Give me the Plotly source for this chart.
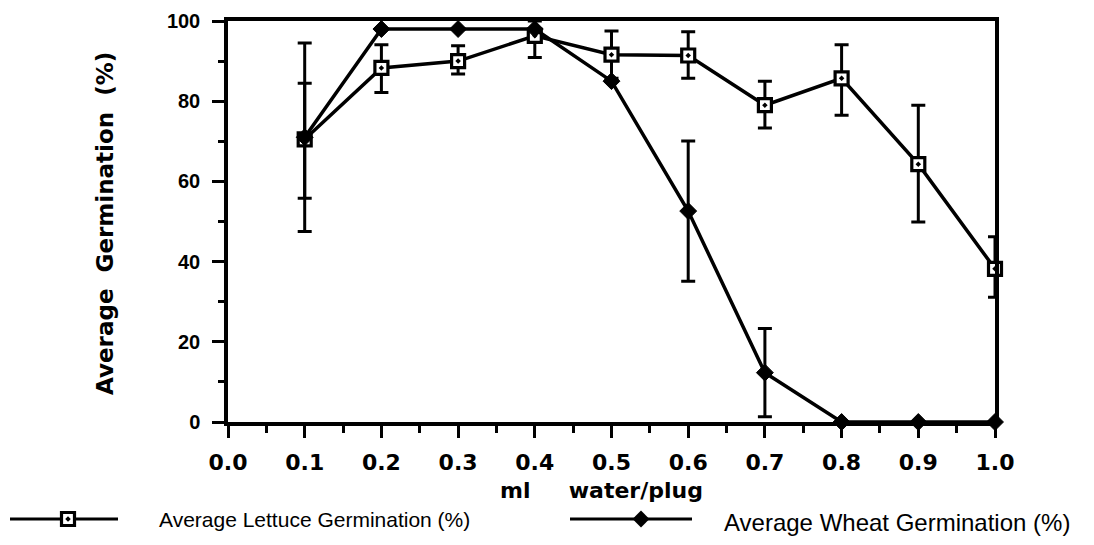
import plotly.graph_objects as go

# ---------------- data ----------------
water_ml = [0.1, 0.2, 0.3, 0.4, 0.5, 0.6, 0.7, 0.8, 0.9, 1.0]

lettuce_pct = [70.5, 88.3, 90.0, 96.3, 91.6, 91.4, 79.0, 85.7, 64.3, 38.2]
lettuce_err_plus = [14.0, 5.8, 3.8, 3.7, 5.9, 5.9, 6.0, 8.4, 14.7, 8.0]
lettuce_err_minus = [14.7, 6.1, 3.2, 5.4, 5.9, 5.7, 5.7, 9.2, 14.4, 7.1]

wheat_pct = [71.0, 98.0, 98.0, 98.0, 85.0, 52.6, 12.3, 0.0, 0.0, 0.0]
wheat_err = [23.5, 0.0, 0.0, 0.0, 0.0, 17.5, 11.0, 0.0, 0.0, 0.0]

x_ticks = [0.0, 0.1, 0.2, 0.3, 0.4, 0.5, 0.6, 0.7, 0.8, 0.9, 1.0]
x_ticktext = ["0.0", "0.1", "0.2", "0.3", "0.4", "0.5", "0.6", "0.7", "0.8", "0.9", "1.0"]
y_ticks = [0, 20, 40, 60, 80, 100]

lettuce_name = "Average Lettuce Germination (%)"
wheat_name = "Average Wheat Germination (%)"
x_title = "ml\u00a0\u00a0\u00a0\u00a0\u00a0water/plug"
y_title = "Average\u00a0\u00a0Germination\u00a0\u00a0(%)"

# ---------------- layout constants (pixels, page coordinates) ----------------
OFF = 8                       # default body margin of the html page
W, H = 1094 - OFF, 545 - OFF  # figure size


def px(v):
    """page pixel -> figure pixel"""
    return v - OFF


PL, PR, PT, PB = px(228), px(995), px(21), px(422)   # plot box

BOLD = "DejaVu Sans"
HELV = "Liberation Sans"

fig = go.Figure()

fig.add_trace(go.Scatter(
    x=water_ml, y=lettuce_pct, mode="lines+markers", name=lettuce_name,
    line=dict(color="black", width=3.5),
    marker=dict(symbol="square-dot", size=13, color="white",
                line=dict(color="black", width=3.2)),
    error_y=dict(type="data", symmetric=False, array=lettuce_err_plus,
                 arrayminus=lettuce_err_minus, color="black", thickness=3, width=7),
    cliponaxis=False, showlegend=False,
))
fig.add_trace(go.Scatter(
    x=water_ml, y=wheat_pct, mode="lines+markers", name=wheat_name,
    line=dict(color="black", width=3.5),
    marker=dict(symbol="diamond", size=13, color="black",
                line=dict(color="black", width=1)),
    error_y=dict(type="data", array=wheat_err, color="black", thickness=3, width=7),
    cliponaxis=False, showlegend=False,
))

# ---------------- custom legend (drawn on a full-figure helper axis) ----------------
LEG_Y = px(519)
leg1_line = [px(10), px(118)]
leg1_mark = px(68)
leg2_line = [px(570), px(692)]
leg2_mark = px(641)

fig.add_trace(go.Scatter(
    x=leg1_line, y=[LEG_Y, LEG_Y], mode="lines", xaxis="x2", yaxis="y2",
    line=dict(color="black", width=3), showlegend=False, hoverinfo="skip"))
fig.add_trace(go.Scatter(
    x=[leg1_mark], y=[LEG_Y], mode="markers", xaxis="x2", yaxis="y2",
    marker=dict(symbol="square-dot", size=13, color="white",
                line=dict(color="black", width=3.2)),
    showlegend=False, hoverinfo="skip"))
fig.add_trace(go.Scatter(
    x=leg2_line, y=[LEG_Y, LEG_Y], mode="lines", xaxis="x2", yaxis="y2",
    line=dict(color="black", width=3), showlegend=False, hoverinfo="skip"))
fig.add_trace(go.Scatter(
    x=[leg2_mark], y=[LEG_Y], mode="markers", xaxis="x2", yaxis="y2",
    marker=dict(symbol="diamond", size=13, color="black"),
    showlegend=False, hoverinfo="skip"))

annotations = [
    dict(x=px(157), y=LEG_Y, xref="x2", yref="y2", text=lettuce_name, showarrow=False,
         xanchor="left", yanchor="middle", font=dict(family=HELV, size=21, color="black")),
    dict(x=px(722), y=LEG_Y + 3, xref="x2", yref="y2", text=wheat_name, showarrow=False,
         xanchor="left", yanchor="middle", font=dict(family=HELV, size=24, color="black")),
    dict(x=px(601), y=px(490), xref="x2", yref="y2", text=x_title, showarrow=False,
         xanchor="center", yanchor="middle",
         font=dict(family=BOLD, size=22, color="black", weight="bold")),
    dict(x=px(105), y=px(224), xref="x2", yref="y2", text=y_title, showarrow=False,
         textangle=-90, xanchor="center", yanchor="middle",
         font=dict(family=BOLD, size=23, color="black", weight="bold")),
]

fig.update_layout(
    width=W, height=H, autosize=False,
    margin=dict(l=0, r=0, t=0, b=0, pad=0),
    paper_bgcolor="white", plot_bgcolor="rgba(0,0,0,0)",
    showlegend=False,
    annotations=annotations,
    xaxis=dict(
        domain=[PL / W, PR / W], range=[0, 1], fixedrange=True,
        tickvals=x_ticks, ticktext=x_ticktext,
        ticks="outside", ticklen=12, tickwidth=3, tickcolor="black",
        minor=dict(dtick=0.05, ticks="outside", ticklen=7, tickwidth=3, tickcolor="black"),
        showline=True, linewidth=3.5, linecolor="black", mirror=True,
        showgrid=False, zeroline=False, automargin=False,
        tickfont=dict(family=BOLD, size=22, color="black", weight="bold"),
        ticklabelstandoff=6, ticklabeloverflow="allow",
    ),
    yaxis=dict(
        domain=[1 - PB / H, 1 - PT / H], range=[0, 100], fixedrange=True,
        tickvals=y_ticks,
        ticks="outside", ticklen=12, tickwidth=3, tickcolor="black",
        minor=dict(dtick=10, ticks="outside", ticklen=6, tickwidth=3, tickcolor="black"),
        showline=True, linewidth=3.5, linecolor="black", mirror=True,
        showgrid=False, zeroline=False, automargin=False,
        tickfont=dict(family=HELV, size=20, color="black", weight="bold"),
        ticklabelstandoff=8, ticklabeloverflow="allow",
    ),
    xaxis2=dict(domain=[0, 1], range=[0, W], visible=False, fixedrange=True,
                anchor="y2", showgrid=False, zeroline=False),
    yaxis2=dict(domain=[0, 1], range=[H, 0], visible=False, fixedrange=True,
                anchor="x2", showgrid=False, zeroline=False),
)

fig.write_html("out.html")
